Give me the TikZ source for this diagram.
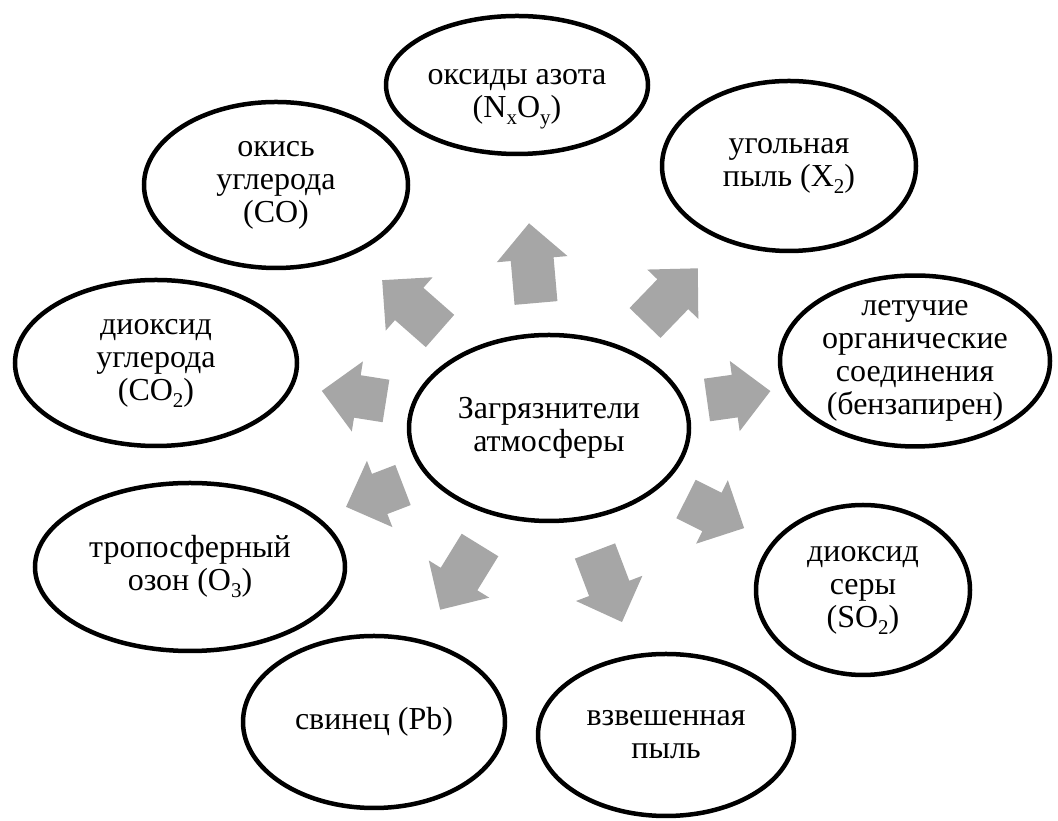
\documentclass[tikz,border=0pt]{standalone}
\usepackage{fontspec}
\setmainfont{Liberation Serif}
\usetikzlibrary{shapes.geometric}

\definecolor{arrowgray}{RGB}{166,166,166}

% lowered index, as in the formulas
\newcommand{\chemsub}[1]{\raisebox{-7pt}{\fontsize{21}{21}\selectfont #1}}

% block arrow: base x, base y, angle, length
\newcommand{\blockarrow}[4]{%
  \fill[arrowgray,shift={(#1,#2)},rotate=#3]
    (0,-21.5) -- ({#4-36},-21.5) -- ({#4-36},-35.5) -- (#4,0)
    -- ({#4-36},35.5) -- ({#4-36},21.5) -- (0,21.5) -- cycle;}

\begin{document}
\begin{tikzpicture}[x=1pt,y=1pt,
  txt/.style={inner sep=0pt,align=center,font=\fontsize{32}{33}\selectfont},
  blob/.style={txt,ellipse,draw,line width=4.5pt}]
\useasboundingbox (0,0) rectangle (1058,821);

\node[blob,minimum width=280,minimum height=186] (cen) at (549,393) {Загрязнители\\атмосферы};

\node[blob,minimum width=262,minimum height=138] (nox) at (517,736) {};
\node[txt] (noxtext) at ([yshift=-14]nox.center) {оксиды азота\\(N\chemsub{x}O\chemsub{y})};
\node[blob,minimum width=254,minimum height=170] (coal) at (789,655) {угольная\\пыль (X\chemsub{2})};
\node[blob,minimum width=270,minimum height=170] (voc) at (915,460) {летучие\\органические\\соединения\\(бензапирен)};
\node[blob,minimum width=214,minimum height=170] (so2) at (863,231) {диоксид\\серы\\(SO\chemsub{2})};
\node[blob,minimum width=256,minimum height=162] (dust) at (666,86) {взвешенная\\пыль};
\node[blob,minimum width=262,minimum height=172] (pb) at (374,99) {свинец (Pb)};
\node[blob,minimum width=310,minimum height=168] (ozone) at (190,254) {тропосферный\\озон (O\chemsub{3})};
\node[blob,minimum width=282,minimum height=166] (co2) at (156,458) {диоксид\\углерода\\(CO\chemsub{2})};
\node[blob,minimum width=264,minimum height=166] (co) at (276,636) {окись\\углерода\\(CO)};

% arrows out of the centre
\blockarrow{536}{518}{95}{80}
\blockarrow{645}{498}{46}{76}
\blockarrow{707}{421}{8}{64}
\blockarrow{686}{322}{-26.6}{65}
\blockarrow{595}{270}{-69.2}{76}
\blockarrow{480}{276}{238.4}{76}
\blockarrow{403}{336}{201}{61}
\blockarrow{386}{420}{171}{65}
\blockarrow{440}{490}{138.7}{77}
\end{tikzpicture}
\end{document}
